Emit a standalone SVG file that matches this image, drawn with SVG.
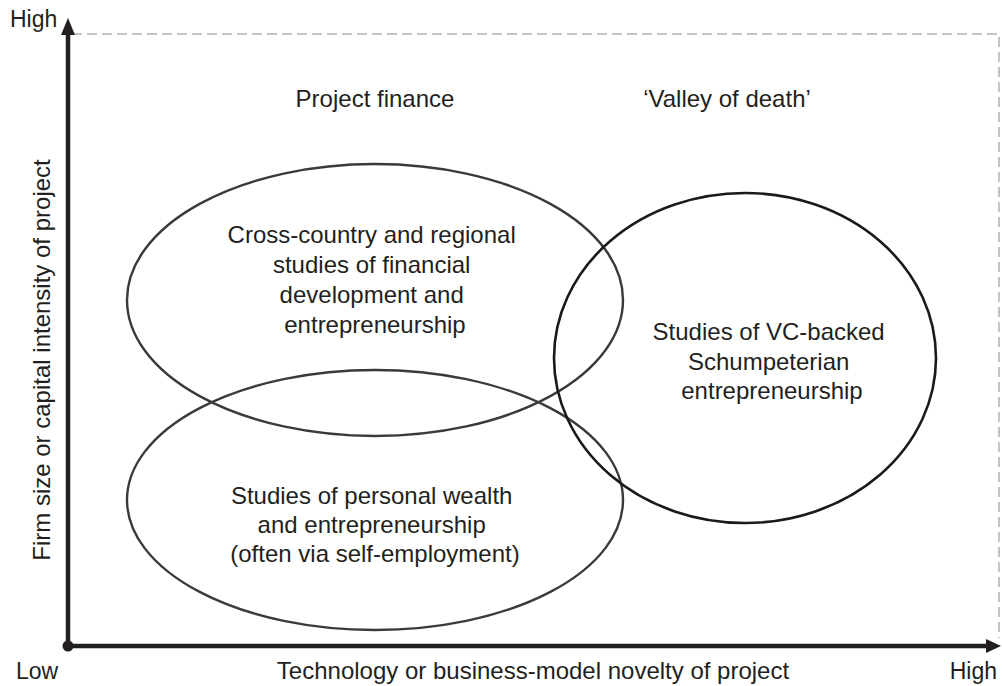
<svg xmlns="http://www.w3.org/2000/svg" width="1002" height="686" viewBox="0 0 1002 686">
  <style>
    .lbl { font-family: "Liberation Sans", Arial, sans-serif; font-size: 24px; fill: #231f20; }
    .end-lbl { font-size: 23px; }
    .mid { text-anchor: middle; }
    .oval { fill: none; stroke: #3a3a3a; stroke-width: 2.4; }
    .oval-dark { fill: none; stroke: #1a1a1a; stroke-width: 2.6; }
    .axis { stroke: #231f20; stroke-width: 4.5; fill: none; }
    .frame { stroke: #c4c4c4; stroke-width: 2; fill: none; stroke-dasharray: 10 5; }
  </style>
  <rect width="1002" height="686" fill="#ffffff"/>

  <!-- dashed outer bound of the plane -->
  <path class="frame" d="M72,34 H999 V638"/>

  <g id="connectors">
    <!-- vertical axis -->
    <line class="axis" x1="68" y1="646" x2="68" y2="32"/>
    <path d="M68,18 L75,35 L61,35 Z" fill="#231f20"/>
    <!-- horizontal axis -->
    <line class="axis" x1="68" y1="646" x2="988" y2="646"/>
    <path d="M1001,646 L986,639 L986,653 Z" fill="#231f20"/>
    <circle cx="68" cy="646" r="5.5" fill="#231f20"/>
  </g>

  <!-- axis labels -->
  <text class="lbl end-lbl" x="10" y="27">High</text>
  <text class="lbl end-lbl" x="16" y="679">Low</text>
  <text class="lbl end-lbl" x="997" y="679" text-anchor="end">High</text>
  <text class="lbl mid" x="533" y="679">Technology or business-model novelty of project</text>
  <text class="lbl mid" transform="translate(50,360) rotate(-90)">Firm size or capital intensity of project</text>

  <!-- region captions -->
  <text class="lbl mid" x="375" y="107">Project finance</text>
  <text class="lbl mid" x="727" y="107">‘Valley of death’</text>

  <g id="node-cross-country">
    <ellipse class="oval" cx="375" cy="300" rx="248" ry="136"/>
    <text class="lbl mid">
      <tspan x="375" y="243">Cross-country and regional</tspan>
      <tspan x="375" y="273">studies of financial</tspan>
      <tspan x="375" y="303">development and</tspan>
      <tspan x="375" y="333">entrepreneurship</tspan>
    </text>
  </g>

  <g id="node-personal-wealth">
    <ellipse class="oval" cx="375" cy="500" rx="248" ry="130"/>
    <text class="lbl mid">
      <tspan x="375" y="504">Studies of personal wealth</tspan>
      <tspan x="375" y="533">and entrepreneurship</tspan>
      <tspan x="375" y="562">(often via self-employment)</tspan>
    </text>
  </g>

  <g id="node-vc-backed">
    <ellipse class="oval-dark" cx="745" cy="358" rx="191" ry="165"/>
    <text class="lbl mid">
      <tspan x="772" y="340">Studies of VC-backed</tspan>
      <tspan x="772" y="370">Schumpeterian</tspan>
      <tspan x="772" y="399">entrepreneurship</tspan>
    </text>
  </g>
</svg>
